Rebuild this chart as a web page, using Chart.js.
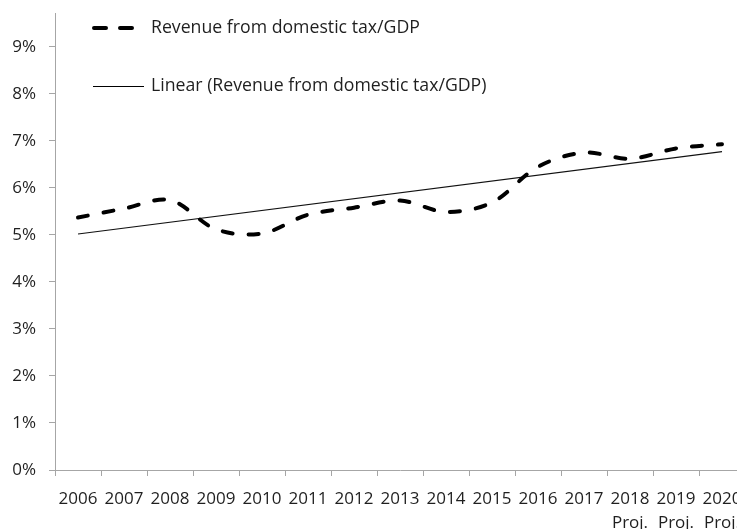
<!DOCTYPE html>
<html>
<head>
<meta charset="utf-8">
<script src="https://cdn.jsdelivr.net/npm/chart.js@4/dist/chart.umd.min.js"></script>
<style>
html, body { margin: 0; padding: 0; background: #fff; overflow: hidden; }
#wrap { width: 737px; height: 529px; overflow: hidden; }
</style>
</head>
<body>
<div id="wrap"><canvas id="chartPajak" width="760" height="529"></canvas></div>
<script>
// ==========================
// DATA
// ==========================

const years = ["2006", "2007", "2008", "2009", "2010", "2011", "2012", "2013",
  "2014", "2015", "2016", "2017", "2018", "2019", "2020"];

const projLabel = ["", "", "", "", "", "", "", "", "", "", "", "", "Proj.", "Proj.", "Proj."];

// revenue from domestic tax, % of GDP
const revenue = [5.37, 5.56, 5.74, 5.12, 5.03, 5.43, 5.58, 5.73,
  5.49, 5.69, 6.45, 6.75, 6.62, 6.84, 6.93];

// linear trend, read at both ends only
const trend = [5.02, null, null, null, null, null, null, null,
  null, null, null, null, null, null, 6.77];

const yTicks = [0, 1, 2, 3, 4, 5, 6, 7, 8, 9];

const legendNames = ["Revenue from domestic tax/GDP", "Linear (Revenue from domestic tax/GDP)"];


const fontUtama = "'Open Sans', sans-serif";
const warnaTeks = "#1f1f1f";
const warnaSumbu = "#a6a6a6";


// legend drawn inside the plot, top left
const legendDalam = {
  id: "legendDalam",
  afterDraw(chart) {
    const ctx = chart.ctx;
    ctx.save();

    // dashed sample
    ctx.strokeStyle = "#000";
    ctx.lineWidth = 4;
    ctx.lineCap = "round";
    ctx.setLineDash([12, 14]);
    ctx.beginPath();
    ctx.moveTo(94, 28);
    ctx.lineTo(134, 28);
    ctx.stroke();

    // solid sample
    ctx.setLineDash([]);
    ctx.lineCap = "butt";
    ctx.lineWidth = 1;
    ctx.beginPath();
    ctx.moveTo(93, 86.5);
    ctx.lineTo(144, 86.5);
    ctx.stroke();

    ctx.fillStyle = warnaTeks;
    ctx.font = "17.7px " + fontUtama;
    ctx.textAlign = "left";
    ctx.textBaseline = "middle";
    ctx.fillText(legendNames[0], 151, 28);
    ctx.fillText(legendNames[1], 151, 86);

    ctx.restore();
  }
};


new Chart(
document.getElementById("chartPajak"),
{

type: "line",

data: {

  labels: years.map((y, i) => projLabel[i] ? [y, projLabel[i]] : y),

  datasets: [
    {
      label: legendNames[0],
      data: revenue,
      borderColor: "#000",
      borderWidth: 4,
      borderDash: [10, 16],
      borderCapStyle: "round",
      tension: 0.33,
      pointRadius: 0,
      fill: false
    },
    {
      label: legendNames[1],
      data: trend,
      borderColor: "#111",
      borderWidth: 1.2,
      spanGaps: true,
      tension: 0,
      pointRadius: 0,
      fill: false
    }
  ]

},

options: {

  responsive: false,
  animation: false,

  layout: {
    padding: { top: 13, right: 15, left: 0, bottom: 0 }
  },

  plugins: {
    legend: { display: false },
    tooltip: { enabled: false }
  },

  scales: {

    x: {
      offset: true,
      border: { display: true, color: warnaSumbu, width: 1 },
      grid: {
        offset: true,
        drawOnChartArea: false,
        drawTicks: true,
        tickLength: 6,
        color: warnaSumbu
      },
      ticks: {
        autoSkip: false,
        maxRotation: 0,
        padding: 11,
        color: warnaTeks,
        font: { family: fontUtama, size: 17, lineHeight: 1.4 }
      },
      afterFit(axis) {
        axis.height = 59;
        axis.paddingLeft = 0;
        axis.paddingRight = 0;
      }
    },

    y: {
      min: 0,
      max: 9.72,
      border: { display: true, color: warnaSumbu, width: 1 },
      grid: {
        drawOnChartArea: false,
        drawTicks: true,
        tickLength: 6,
        color: warnaSumbu
      },
      ticks: {
        stepSize: 1,
        padding: 13,
        color: warnaTeks,
        font: { family: fontUtama, size: 17 },
        callback: function (value) {
          return value + "%";
        }
      },
      afterBuildTicks(axis) {
        axis.ticks = yTicks.map(v => ({ value: v }));
      },
      afterFit(axis) {
        axis.width = 55;
        axis.paddingTop = 0;
        axis.paddingBottom = 0;
      }
    }

  }

},

plugins: [legendDalam]

});
</script>
</body>
</html>
